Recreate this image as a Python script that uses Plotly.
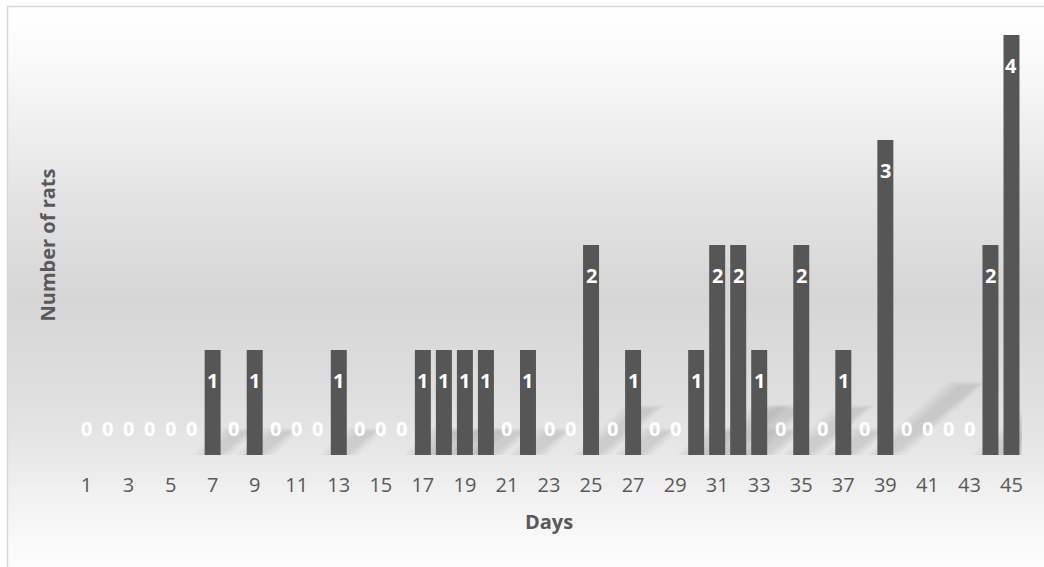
import base64
import plotly.graph_objects as go

# Number of rats counted per day
days = list(range(1, 46))
rats = [0, 0, 0, 0, 0, 0, 1, 0, 1, 0,
        0, 0, 1, 0, 0, 0, 1, 1, 1, 1,
        0, 1, 0, 0, 2, 0, 1, 0, 0, 1,
        2, 2, 1, 0, 2, 0, 1, 0, 3, 0,
        0, 0, 0, 2, 4]
tick_days = list(range(1, 46, 2))

W, H = 1044, 567
L, R, T, B = 76, 22, 35, 112
PW, PH = W - L - R, H - T - B

FONT = "Open Sans"
GREY = "#595959"
BAR_HALF = 0.38


def px(x):
    return (x - L) / PW


def py(y):
    return (H - B - y) / PH


# soft vertical gradient behind the whole chart area
stops = [(0.0, "#ffffff"), (0.08, "#fbfbfb"), (0.26, "#ebebeb"),
         (0.34, "#e3e3e3"), (0.52, "#d6d6d6"), (0.70, "#dfdfdf"),
         (0.80, "#e8e8e8"), (0.86, "#f0f0f0"), (0.94, "#f8f8f8"),
         (1.0, "#fdfdfd")]
stop_xml = "".join(f"<stop offset='{o}' stop-color='{c}'/>" for o, c in stops)
bw, bh = W - 8, H - 7
svg = (f"<svg xmlns='http://www.w3.org/2000/svg' width='{bw}' height='{bh}' "
       f"viewBox='0 0 {bw} {bh}' preserveAspectRatio='none'>"
       f"<defs><linearGradient id='g' x1='0' y1='0' x2='0' y2='1'>{stop_xml}"
       f"</linearGradient></defs><rect width='{bw}' height='{bh}' fill='url(#g)'/></svg>")
bg_src = "data:image/svg+xml;base64," + base64.b64encode(svg.encode()).decode()

fig = go.Figure()
fig.add_trace(go.Bar(
    x=days, y=rats,
    width=2 * BAR_HALF,
    marker=dict(color="#565656", line=dict(width=0)),
    hoverinfo="x+y",
))

# faint, soft perspective shadow cast up and to the right from each bar foot
for d, v in zip(days, rats):
    if v <= 0:
        continue
    dx, dy = 1.3 * v, 0.22 * v
    for k in range(5):
        spread = 0.14 * k
        x0, x1 = d - BAR_HALF - spread, d + BAR_HALF + spread
        top = dy + 0.01 * k
        path = f"M {x0},0 L {x1},0 L {x1 + dx},{top} L {x0 + dx},{top} Z"
        fig.add_shape(type="path", path=path, xref="x", yref="y",
                      fillcolor="rgba(0,0,0,0.018)", line=dict(width=0),
                      layer="below")

# value labels: inside the top of each bar, just above the baseline for zeros
for d, v in zip(days, rats):
    fig.add_annotation(
        x=d, y=v, text=str(v), showarrow=False,
        yshift=-30 if v > 0 else 27,
        font=dict(family=FONT, size=20, color="#ffffff", weight="bold"),
    )

fig.add_layout_image(
    source=bg_src, xref="paper", yref="paper",
    x=px(8), y=py(7), sizex=bw / PW, sizey=bh / PH,
    xanchor="left", yanchor="top", sizing="stretch", layer="below",
)

# chart frame
fig.add_shape(type="rect", xref="paper", yref="paper",
              x0=px(7.5), x1=px(W + 20), y0=py(6.5), y1=py(H + 20),
              line=dict(color="#d9d9d9", width=1.5), fillcolor="rgba(0,0,0,0)",
              layer="above")

fig.update_layout(
    width=W, height=H,
    margin=dict(l=L, r=R, t=T, b=B, pad=0),
    paper_bgcolor="#ffffff",
    plot_bgcolor="rgba(0,0,0,0)",
    showlegend=False,
    font=dict(family=FONT, color=GREY),
    xaxis=dict(
        range=[0.5, 45.5], tickmode="array", tickvals=tick_days,
        ticktext=[str(d) for d in tick_days],
        showgrid=False, zeroline=False, showline=False, ticks="",
        tickfont=dict(family=FONT, size=20, color=GREY),
        ticklabelstandoff=16,
        title=dict(text="Days", standoff=17,
                   font=dict(family=FONT, size=20, color=GREY, weight="bold")),
    ),
    yaxis=dict(
        range=[0, 4], showgrid=False, zeroline=False, showline=False,
        showticklabels=False, ticks="",
        title=dict(text="Number of rats", standoff=14,
                   font=dict(family=FONT, size=20, color=GREY, weight="bold")),
    ),
)

fig.write_html("out.html")
